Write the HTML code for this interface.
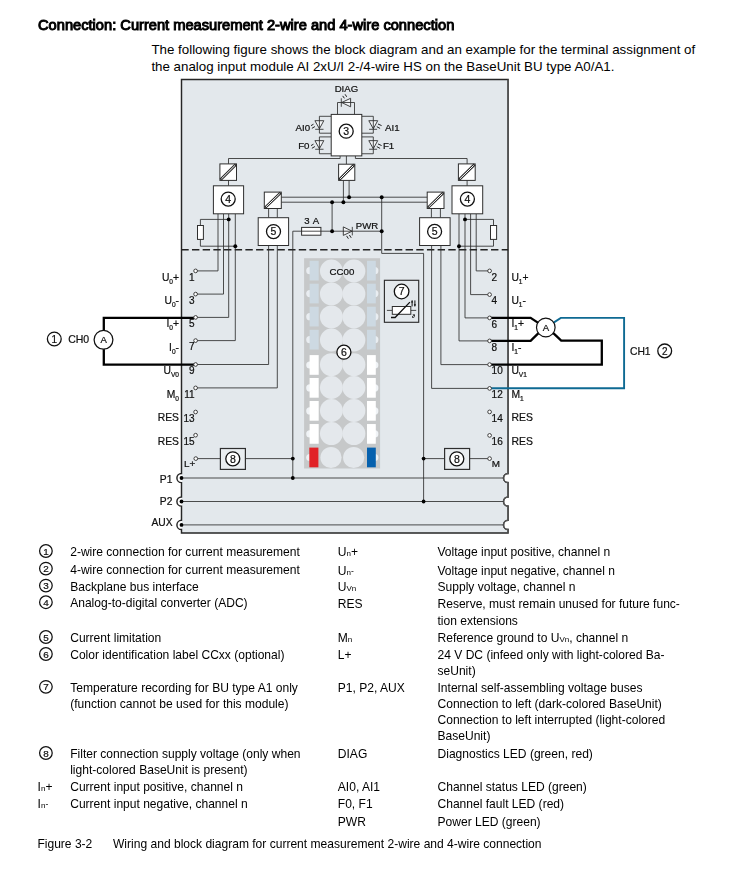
<!DOCTYPE html>
<html><head><meta charset="utf-8"><title>Connection: Current measurement 2-wire and 4-wire connection</title>
<style>
html,body{margin:0;padding:0;background:#fff;}
body{width:739px;height:874px;position:relative;overflow:hidden;font-family:"Liberation Sans",sans-serif;color:#111;}
svg{position:absolute;left:0;top:0;will-change:transform;}
svg text{font-family:"Liberation Sans",sans-serif;fill:#111;stroke:#111;stroke-width:0.22px;}
.h{position:absolute;will-change:transform;left:37.6px;top:17.4px;font-size:14.67px;line-height:17px;white-space:nowrap;color:#000;-webkit-text-stroke:1.0px #000;}
.p{position:absolute;left:151.4px;top:40.6px;font-size:13.33px;line-height:17.2px;white-space:nowrap;color:#000;}
.t{position:absolute;font-size:12.06px;line-height:14px;white-space:nowrap;color:#000;}
.s{font-size:8px;}
.m{font-size:8.5px;vertical-align:1px;}
.c{display:inline-block;box-sizing:border-box;width:13.4px;height:13.4px;border:1.1px solid #111;border-radius:50%;font-size:9.6px;line-height:11.4px;text-align:center;vertical-align:-2.2px;}
</style></head><body>
<div class="h">Connection: Current measurement 2-wire and 4-wire connection</div>
<div class="p">The following figure shows the block diagram and an example for the terminal assignment of<br>the analog input module AI 2xU/I 2-/4-wire HS on the BaseUnit BU type A0/A1.</div>
<svg width="739" height="874" viewBox="0 0 739 874">
<rect x="181.5" y="79.4" width="326.6" height="453.6" fill="#e3e8ec"/>
<path d="M181.5,473.4 A4.6,4.6 0 0 0 181.5,482.6 Z" fill="#fff"/>
<path d="M181.5,496.9 A4.6,4.6 0 0 0 181.5,506.1 Z" fill="#fff"/>
<path d="M181.5,520.3 A4.6,4.6 0 0 0 181.5,529.5 Z" fill="#fff"/>
<path d="M508.1,473.4 A4.6,4.6 0 0 0 508.1,482.6 Z" fill="#fff"/>
<path d="M508.1,496.9 A4.6,4.6 0 0 0 508.1,506.1 Z" fill="#fff"/>
<path d="M508.1,520.3 A4.6,4.6 0 0 0 508.1,529.5 Z" fill="#fff"/>
<path d="M181.5,79.4 L181.5,473.4 A4.6,4.6 0 0 0 181.5,482.6 L181.5,496.9 A4.6,4.6 0 0 0 181.5,506.1 L181.5,520.3 A4.6,4.6 0 0 0 181.5,529.5 L181.5,533.0 L508.1,533.0 L508.1,529.5 A4.6,4.6 0 0 1 508.1,520.3 L508.1,506.1 A4.6,4.6 0 0 1 508.1,496.9 L508.1,482.6 A4.6,4.6 0 0 1 508.1,473.4 L508.1,79.4 Z" fill="none" stroke="#262626" stroke-width="1.45" stroke-linejoin="miter"/>
<path d="M508.1,79.4 L508.1,473.4 A4.6,4.6 0 0 0 508.1,482.6 L508.1,496.9 A4.6,4.6 0 0 0 508.1,506.1 L508.1,520.3 A4.6,4.6 0 0 0 508.1,529.5 L508.1,533.0" fill="none" stroke="#555" stroke-width="1.5"/>
<path d="M181.3,249.7 L508.1,249.7" stroke="#222" stroke-width="1.4" stroke-dasharray="7.4,3.28" fill="none"/>
<path d="M181.5,478.0 L503.5,478.0" fill="none" stroke="#2e2e2e" stroke-width="0.85" />
<path d="M181.5,501.5 L503.5,501.5" fill="none" stroke="#2e2e2e" stroke-width="0.85" />
<path d="M181.5,524.9 L503.5,524.9" fill="none" stroke="#2e2e2e" stroke-width="0.85" />
<circle cx="181.5" cy="478.0" r="1.9" fill="#000"/>
<circle cx="181.5" cy="501.5" r="1.9" fill="#000"/>
<circle cx="181.5" cy="524.9" r="1.9" fill="#000"/>
<path d="M341.7,102.5 L350.6,98.3 L350.6,106.8 Z" fill="#f2f4f6" stroke="#2e2e2e" stroke-width="0.9"/>
<path d="M337.5,114.4 L337.5,102.5 L354.5,102.5 L354.5,114.4" fill="none" stroke="#2e2e2e" stroke-width="0.85" />
<path d="M341.3,98.3 L341.3,106.8" fill="none" stroke="#2e2e2e" stroke-width="0.85" />
<path d="M344.4,98.3 L342.7,95.9" fill="none" stroke="#222" stroke-width="1.0" />
<path d="M346.7,96.8 L345.1,94.3" fill="none" stroke="#222" stroke-width="1.0" />
<text x="346.4" y="91.6" font-size="9.6" text-anchor="middle" >DIAG</text>
<path d="M314.9,120.7 L323.8,120.7 L319.4,128.75 Z" fill="#f2f4f6" stroke="#2e2e2e" stroke-width="0.9"/>
<path d="M331.2,116.3 L319.4,116.3 L319.4,133.2 L331.2,133.2" fill="none" stroke="#2e2e2e" stroke-width="0.85" />
<path d="M315.2,129.3 L323.5,129.3" fill="none" stroke="#2e2e2e" stroke-width="0.85" />
<path d="M311.0,125.65 L313.5,124.2" fill="none" stroke="#222" stroke-width="1.0" />
<path d="M311.9,128.35 L314.9,126.55" fill="none" stroke="#222" stroke-width="1.0" />
<text x="295.6" y="130.5" font-size="9.7" text-anchor="start" >AI0</text>
<path d="M314.9,140.65 L323.8,140.65 L319.4,148.7 Z" fill="#f2f4f6" stroke="#2e2e2e" stroke-width="0.9"/>
<path d="M331.2,136.9 L319.4,136.9 L319.4,153.75 L331.2,153.75" fill="none" stroke="#2e2e2e" stroke-width="0.85" />
<path d="M315.2,149.25 L323.5,149.25" fill="none" stroke="#2e2e2e" stroke-width="0.85" />
<path d="M311.0,145.6 L313.5,144.14999999999998" fill="none" stroke="#222" stroke-width="1.0" />
<path d="M311.9,148.29999999999998 L314.9,146.5" fill="none" stroke="#222" stroke-width="1.0" />
<text x="298.2" y="148.7" font-size="9.7" text-anchor="start" >F0</text>
<path d="M368.8,120.7 L377.7,120.7 L373.3,128.75 Z" fill="#f2f4f6" stroke="#2e2e2e" stroke-width="0.9"/>
<path d="M361.6,116.3 L373.3,116.3 L373.3,133.2 L361.6,133.2" fill="none" stroke="#2e2e2e" stroke-width="0.85" />
<path d="M369.1,129.3 L377.1,129.3" fill="none" stroke="#2e2e2e" stroke-width="0.85" />
<path d="M378.0,124.0 L381.6,125.6" fill="none" stroke="#222" stroke-width="1.0" />
<path d="M376.8,126.7 L380.1,128.45" fill="none" stroke="#222" stroke-width="1.0" />
<text x="385.0" y="130.5" font-size="9.7" text-anchor="start" >AI1</text>
<path d="M368.8,140.65 L377.7,140.65 L373.3,148.7 Z" fill="#f2f4f6" stroke="#2e2e2e" stroke-width="0.9"/>
<path d="M361.6,136.9 L373.3,136.9 L373.3,153.75 L361.6,153.75" fill="none" stroke="#2e2e2e" stroke-width="0.85" />
<path d="M369.1,149.25 L377.1,149.25" fill="none" stroke="#2e2e2e" stroke-width="0.85" />
<path d="M378.0,143.95 L381.6,145.54999999999998" fill="none" stroke="#222" stroke-width="1.0" />
<path d="M376.8,146.64999999999998 L380.1,148.39999999999998" fill="none" stroke="#222" stroke-width="1.0" />
<text x="382.9" y="148.7" font-size="9.7" text-anchor="start" >F1</text>
<path d="M340.1,155.9 L340.1,158.5 L228.5,158.5 L228.5,163.9" fill="none" stroke="#2e2e2e" stroke-width="0.85" />
<path d="M355.4,155.9 L355.4,158.5 L467.1,158.5 L467.1,163.9" fill="none" stroke="#2e2e2e" stroke-width="0.85" />
<path d="M346.4,155.9 L346.4,164.2" fill="none" stroke="#2e2e2e" stroke-width="0.85" />
<rect x="331.2" y="114.4" width="30.6" height="41.5" fill="#fff" stroke="#2e2e2e" stroke-width="1"/>
<circle cx="346.2" cy="131.2" r="7.0" fill="#fff" stroke="#111" stroke-width="1.3"/>
<text x="346.2" y="134.98" font-size="10.5" text-anchor="middle" stroke="#111" stroke-width="0.2">3</text>
<rect x="219.9" y="163.9" width="16.6" height="16.5" fill="#fff" stroke="#2e2e2e" stroke-width="1"/>
<path d="M220.5,179.8 L235.9,164.5" fill="none" stroke="#2a2a2a" stroke-width="2.7" />
<path d="M221.4,178.9 L235.0,165.4" fill="none" stroke="#fff" stroke-width="1.0" />
<path d="M228.5,180.4 L228.5,185.8" fill="none" stroke="#2e2e2e" stroke-width="0.85" />
<path d="M218.0,213.8 L218.0,270.9 L195.6,270.9" fill="none" stroke="#2e2e2e" stroke-width="0.85" />
<path d="M223.5,213.8 L223.5,294.1 L195.6,294.1" fill="none" stroke="#2e2e2e" stroke-width="0.85" />
<path d="M228.7,213.8 L228.7,317.4 L195.6,317.4" fill="none" stroke="#2e2e2e" stroke-width="0.85" />
<path d="M235.3,213.8 L235.3,340.6 L195.6,340.6" fill="none" stroke="#2e2e2e" stroke-width="0.85" />
<rect x="213.4" y="185.8" width="30.2" height="28.0" fill="#fff" stroke="#2e2e2e" stroke-width="1"/>
<circle cx="228.2" cy="199.1" r="7.0" fill="#fff" stroke="#111" stroke-width="1.3"/>
<text x="228.2" y="202.88" font-size="10.5" text-anchor="middle" stroke="#111" stroke-width="0.2">4</text>
<path d="M200.4,225.5 L200.4,219.4 L228.7,219.4" fill="none" stroke="#2e2e2e" stroke-width="0.85" />
<path d="M200.4,239.4 L200.4,246.2 L235.3,246.2" fill="none" stroke="#2e2e2e" stroke-width="0.85" />
<rect x="197.5" y="225.5" width="5.9" height="13.9" fill="#fff" stroke="#2e2e2e" stroke-width="1"/>
<circle cx="228.7" cy="219.4" r="1.95" fill="#000"/>
<circle cx="235.3" cy="246.2" r="1.95" fill="#000"/>
<rect x="458.4" y="163.9" width="16.8" height="16.5" fill="#fff" stroke="#2e2e2e" stroke-width="1"/>
<path d="M459.0,179.8 L474.59999999999997,164.5" fill="none" stroke="#2a2a2a" stroke-width="2.7" />
<path d="M459.9,178.9 L473.7,165.4" fill="none" stroke="#fff" stroke-width="1.0" />
<path d="M467.1,180.4 L467.1,185.8" fill="none" stroke="#2e2e2e" stroke-width="0.85" />
<path d="M476.2,213.8 L476.2,270.9 L489.6,270.9" fill="none" stroke="#2e2e2e" stroke-width="0.85" />
<path d="M470.6,213.8 L470.6,294.6 L489.6,294.6" fill="none" stroke="#2e2e2e" stroke-width="0.85" />
<path d="M465.0,213.8 L465.0,317.9 L489.6,317.9" fill="none" stroke="#2e2e2e" stroke-width="0.85" />
<path d="M459.0,213.8 L459.0,340.9 L489.6,340.9" fill="none" stroke="#2e2e2e" stroke-width="0.85" />
<rect x="452.0" y="185.8" width="30.7" height="28.0" fill="#fff" stroke="#2e2e2e" stroke-width="1"/>
<circle cx="467.4" cy="199.1" r="7.0" fill="#fff" stroke="#111" stroke-width="1.3"/>
<text x="467.4" y="202.88" font-size="10.5" text-anchor="middle" stroke="#111" stroke-width="0.2">4</text>
<path d="M493.5,225.5 L493.5,219.4 L465.0,219.4" fill="none" stroke="#2e2e2e" stroke-width="0.85" />
<path d="M493.5,239.4 L493.5,246.2 L459.0,246.2" fill="none" stroke="#2e2e2e" stroke-width="0.85" />
<rect x="490.5" y="225.5" width="6.1" height="13.9" fill="#fff" stroke="#2e2e2e" stroke-width="1"/>
<circle cx="465.0" cy="219.4" r="1.95" fill="#000"/>
<circle cx="459.0" cy="246.2" r="1.95" fill="#000"/>
<path d="M343.4,180.4 L343.4,202.2" fill="none" stroke="#2e2e2e" stroke-width="0.85" />
<path d="M349.1,180.4 L349.1,197.2" fill="none" stroke="#2e2e2e" stroke-width="0.85" />
<rect x="338.6" y="164.2" width="16.2" height="16.2" fill="#fff" stroke="#2e2e2e" stroke-width="1"/>
<path d="M339.20000000000005,179.8 L354.2,164.79999999999998" fill="none" stroke="#2a2a2a" stroke-width="2.7" />
<path d="M340.1,178.9 L353.3,165.7" fill="none" stroke="#fff" stroke-width="1.0" />
<path d="M281.3,197.2 L427.2,197.2" fill="none" stroke="#2e2e2e" stroke-width="0.85" />
<path d="M281.3,202.2 L427.2,202.2" fill="none" stroke="#2e2e2e" stroke-width="0.85" />
<rect x="264.3" y="192.1" width="17.0" height="16.4" fill="#fff" stroke="#2e2e2e" stroke-width="1"/>
<path d="M264.90000000000003,207.9 L280.7,192.7" fill="none" stroke="#2a2a2a" stroke-width="2.7" />
<path d="M265.8,207.0 L279.8,193.6" fill="none" stroke="#fff" stroke-width="1.0" />
<path d="M268.6,208.5 L268.6,217.7" fill="none" stroke="#2e2e2e" stroke-width="0.85" />
<path d="M277.3,208.5 L277.3,217.7" fill="none" stroke="#2e2e2e" stroke-width="0.85" />
<path d="M268.6,245.5 L268.6,364.5 L195.6,364.5" fill="none" stroke="#2e2e2e" stroke-width="0.85" />
<path d="M277.3,245.5 L277.3,387.9 L195.6,387.9" fill="none" stroke="#2e2e2e" stroke-width="0.85" />
<rect x="258.2" y="217.7" width="30.4" height="27.8" fill="#fff" stroke="#2e2e2e" stroke-width="1"/>
<circle cx="273.5" cy="231.6" r="7.0" fill="#fff" stroke="#111" stroke-width="1.3"/>
<text x="273.5" y="235.38" font-size="10.5" text-anchor="middle" stroke="#111" stroke-width="0.2">5</text>
<rect x="427.2" y="192.1" width="16.8" height="16.4" fill="#fff" stroke="#2e2e2e" stroke-width="1"/>
<path d="M427.8,207.9 L443.4,192.7" fill="none" stroke="#2a2a2a" stroke-width="2.7" />
<path d="M428.7,207.0 L442.5,193.6" fill="none" stroke="#fff" stroke-width="1.0" />
<path d="M431.4,208.5 L431.4,217.7" fill="none" stroke="#2e2e2e" stroke-width="0.85" />
<path d="M440.4,208.5 L440.4,217.7" fill="none" stroke="#2e2e2e" stroke-width="0.85" />
<path d="M440.9,245.5 L440.9,364.6 L489.6,364.6" fill="none" stroke="#2e2e2e" stroke-width="0.85" />
<path d="M431.6,245.5 L431.6,388.4 L489.6,388.4" fill="none" stroke="#2e2e2e" stroke-width="0.85" />
<rect x="419.6" y="217.7" width="30.5" height="27.8" fill="#fff" stroke="#2e2e2e" stroke-width="1"/>
<circle cx="434.6" cy="231.4" r="7.0" fill="#fff" stroke="#111" stroke-width="1.3"/>
<text x="434.6" y="235.18" font-size="10.5" text-anchor="middle" stroke="#111" stroke-width="0.2">5</text>
<rect x="301.6" y="227.4" width="19.3" height="7.8" fill="#fff" stroke="#2e2e2e" stroke-width="1"/>
<path d="M343.3,226.9 L343.3,235.4 L352.1,231.2 Z" fill="#f2f4f6" stroke="#2e2e2e" stroke-width="0.9"/>
<path d="M292.8,478.0 L292.8,231.2 L381.7,231.2" fill="none" stroke="#2e2e2e" stroke-width="0.85" />
<path d="M332.1,202.2 L332.1,231.2" fill="none" stroke="#2e2e2e" stroke-width="0.85" />
<text x="311.8" y="224.4" font-size="9.6" text-anchor="middle" word-spacing="1">3 A</text>
<path d="M352.3,226.9 L352.3,235.4" fill="none" stroke="#2e2e2e" stroke-width="0.85" />
<path d="M346.6,235.9 L348.4,238.7" fill="none" stroke="#222" stroke-width="1.0" />
<path d="M349.4,235.0 L351.2,237.8" fill="none" stroke="#222" stroke-width="1.0" />
<text x="355.8" y="228.9" font-size="9.6" text-anchor="start" >PWR</text>
<path d="M381.7,197.2 L381.7,253.4 L423.6,253.4 L423.6,501.5" fill="none" stroke="#2e2e2e" stroke-width="0.85" />
<circle cx="343.4" cy="202.2" r="1.95" fill="#000"/>
<circle cx="349.1" cy="197.2" r="1.95" fill="#000"/>
<circle cx="332.1" cy="202.2" r="1.95" fill="#000"/>
<circle cx="332.1" cy="231.2" r="1.95" fill="#000"/>
<circle cx="381.7" cy="197.2" r="1.95" fill="#000"/>
<circle cx="381.7" cy="231.2" r="1.95" fill="#000"/>
<path d="M195.8,458.6 L292.8,458.6" fill="none" stroke="#2e2e2e" stroke-width="0.85" />
<rect x="220.4" y="448.5" width="25.0" height="20.9" fill="#e9edf0" stroke="#2e2e2e" stroke-width="1.2"/>
<circle cx="232.8" cy="458.8" r="7.0" fill="#fff" stroke="#111" stroke-width="1.3"/>
<text x="232.8" y="462.58" font-size="10.5" text-anchor="middle" stroke="#111" stroke-width="0.2">8</text>
<circle cx="292.8" cy="458.6" r="1.9" fill="#000"/>
<circle cx="292.8" cy="478.0" r="1.9" fill="#000"/>
<path d="M423.6,458.6 L489.6,458.6" fill="none" stroke="#2e2e2e" stroke-width="0.85" />
<rect x="444.6" y="448.5" width="25.0" height="20.9" fill="#e9edf0" stroke="#2e2e2e" stroke-width="1.2"/>
<circle cx="456.8" cy="458.8" r="7.0" fill="#fff" stroke="#111" stroke-width="1.3"/>
<text x="456.8" y="462.58" font-size="10.5" text-anchor="middle" stroke="#111" stroke-width="0.2">8</text>
<circle cx="423.6" cy="458.6" r="1.9" fill="#000"/>
<circle cx="423.6" cy="501.5" r="1.9" fill="#000"/>
<rect x="304.1" y="258.2" width="76.0" height="210.3" fill="#c6c8c9"/>
<circle cx="309.8" cy="270.7" r="3.6" fill="#e9edf1"/>
<circle cx="374.8" cy="270.7" r="3.6" fill="#e9edf1"/>
<circle cx="331.4" cy="271.0" r="11.45" fill="#e4e8ec"/>
<circle cx="353.9" cy="271.0" r="11.45" fill="#e4e8ec"/>
<rect x="309.6" y="260.8" width="9.1" height="19.7" fill="#cdd9e2"/>
<rect x="367.0" y="260.8" width="8.8" height="19.7" fill="#cdd9e2"/>
<circle cx="309.8" cy="293.59999999999997" r="3.6" fill="#e9edf1"/>
<circle cx="374.8" cy="293.59999999999997" r="3.6" fill="#e9edf1"/>
<circle cx="331.4" cy="293.9" r="11.45" fill="#e4e8ec"/>
<circle cx="353.9" cy="293.9" r="11.45" fill="#e4e8ec"/>
<rect x="309.6" y="283.7" width="9.1" height="19.7" fill="#cdd9e2"/>
<rect x="367.0" y="283.7" width="8.8" height="19.7" fill="#cdd9e2"/>
<circle cx="309.8" cy="316.65" r="3.6" fill="#e9edf1"/>
<circle cx="374.8" cy="316.65" r="3.6" fill="#e9edf1"/>
<circle cx="331.4" cy="316.95" r="11.45" fill="#e4e8ec"/>
<circle cx="353.9" cy="316.95" r="11.45" fill="#e4e8ec"/>
<rect x="309.6" y="306.75" width="9.1" height="19.7" fill="#cdd9e2"/>
<rect x="367.0" y="306.75" width="8.8" height="19.7" fill="#cdd9e2"/>
<circle cx="309.8" cy="339.7" r="3.6" fill="#e9edf1"/>
<circle cx="374.8" cy="339.7" r="3.6" fill="#e9edf1"/>
<circle cx="331.4" cy="340.0" r="11.45" fill="#e4e8ec"/>
<circle cx="353.9" cy="340.0" r="11.45" fill="#e4e8ec"/>
<rect x="309.6" y="329.8" width="9.1" height="19.7" fill="#cdd9e2"/>
<rect x="367.0" y="329.8" width="8.8" height="19.7" fill="#cdd9e2"/>
<circle cx="309.8" cy="365.0" r="3.6" fill="#f0f3f6"/>
<circle cx="374.8" cy="365.0" r="3.6" fill="#f0f3f6"/>
<circle cx="331.4" cy="364.6" r="11.45" fill="#e4e8ec"/>
<circle cx="353.9" cy="364.6" r="11.45" fill="#e4e8ec"/>
<rect x="309.6" y="355.1" width="9.1" height="19.7" fill="#ffffff"/>
<rect x="367.0" y="355.1" width="8.8" height="19.7" fill="#ffffff"/>
<circle cx="309.8" cy="387.9" r="3.6" fill="#f0f3f6"/>
<circle cx="374.8" cy="387.9" r="3.6" fill="#f0f3f6"/>
<circle cx="331.4" cy="387.5" r="11.45" fill="#e4e8ec"/>
<circle cx="353.9" cy="387.5" r="11.45" fill="#e4e8ec"/>
<rect x="309.6" y="378.0" width="9.1" height="19.7" fill="#ffffff"/>
<rect x="367.0" y="378.0" width="8.8" height="19.7" fill="#ffffff"/>
<circle cx="309.8" cy="410.9" r="3.6" fill="#f0f3f6"/>
<circle cx="374.8" cy="410.9" r="3.6" fill="#f0f3f6"/>
<circle cx="331.4" cy="410.5" r="11.45" fill="#e4e8ec"/>
<circle cx="353.9" cy="410.5" r="11.45" fill="#e4e8ec"/>
<rect x="309.6" y="401.0" width="9.1" height="19.7" fill="#ffffff"/>
<rect x="367.0" y="401.0" width="8.8" height="19.7" fill="#ffffff"/>
<circle cx="309.8" cy="433.95" r="3.6" fill="#f0f3f6"/>
<circle cx="374.8" cy="433.95" r="3.6" fill="#f0f3f6"/>
<circle cx="331.4" cy="433.55" r="11.45" fill="#e4e8ec"/>
<circle cx="353.9" cy="433.55" r="11.45" fill="#e4e8ec"/>
<rect x="309.6" y="424.05" width="9.1" height="19.7" fill="#ffffff"/>
<rect x="367.0" y="424.05" width="8.8" height="19.7" fill="#ffffff"/>
<circle cx="309.8" cy="457.5" r="3.6" fill="#eef1f4"/>
<circle cx="374.8" cy="457.5" r="3.6" fill="#eef1f4"/>
<circle cx="331.0" cy="457.5" r="10.6" fill="#e4e8ec"/>
<circle cx="353.7" cy="457.5" r="10.6" fill="#e4e8ec"/>
<rect x="309.3" y="447.6" width="9.1" height="19.7" fill="#e12227"/>
<rect x="367.0" y="447.6" width="8.8" height="19.7" fill="#0661ae"/>
<text x="342.0" y="274.9" font-size="9.7" text-anchor="middle" >CC00</text>
<circle cx="343.9" cy="352.2" r="7.0" fill="#fff" stroke="#111" stroke-width="1.3"/>
<text x="343.9" y="355.98" font-size="10.5" text-anchor="middle" stroke="#111" stroke-width="0.2">6</text>
<rect x="384.4" y="280.3" width="34.3" height="42.0" fill="none" stroke="#2e2e2e" stroke-width="1.15"/>
<circle cx="401.6" cy="291.5" r="7.3" fill="#fff" stroke="#111" stroke-width="1.3"/>
<text x="401.6" y="295.28" font-size="10.5" text-anchor="middle" stroke="#111" stroke-width="0.2">7</text>
<path d="M386.9,310.4 L392.3,310.4" fill="none" stroke="#2e2e2e" stroke-width="0.85" />
<path d="M410.8,310.4 L416.2,310.4" fill="none" stroke="#2e2e2e" stroke-width="0.85" />
<rect x="392.3" y="306.5" width="18.5" height="7.8" fill="#fff" stroke="#2e2e2e" stroke-width="1"/>
<path d="M391.0,317.5 L395.1,317.5 L409.9,302.1" fill="none" stroke="#111" stroke-width="1.3" />
<path d="M412.1,300.4 L412.1,306.4" fill="none" stroke="#111" stroke-width="1.0" />
<path d="M411.0,302.6 L412.1,300.2 L413.2,302.6 Z" fill="#111"/>
<path d="M414.9,300.4 L414.9,306.4" fill="none" stroke="#111" stroke-width="1.0" />
<path d="M413.8,304.2 L414.9,306.6 L416.0,304.2 Z" fill="#111"/>
<text x="412.0" y="317.6" font-size="5" text-anchor="start" font-style="italic">&#977;</text>
<text x="194.6" y="280.5" font-size="10" text-anchor="end" >1</text>
<text x="194.6" y="303.70000000000005" font-size="10" text-anchor="end" >3</text>
<text x="194.6" y="327.0" font-size="10" text-anchor="end" >5</text>
<text x="194.6" y="350.20000000000005" font-size="10" text-anchor="end" >7</text>
<text x="194.6" y="374.1" font-size="10" text-anchor="end" >9</text>
<text x="194.6" y="397.5" font-size="10" text-anchor="end" >11</text>
<text x="194.6" y="421.6" font-size="10" text-anchor="end" >13</text>
<text x="194.6" y="444.8" font-size="10" text-anchor="end" >15</text>
<text x="491.6" y="280.59999999999997" font-size="10" text-anchor="start" >2</text>
<text x="491.6" y="304.3" font-size="10" text-anchor="start" >4</text>
<text x="491.6" y="327.59999999999997" font-size="10" text-anchor="start" >6</text>
<text x="491.6" y="350.59999999999997" font-size="10" text-anchor="start" >8</text>
<text x="491.6" y="374.3" font-size="10" text-anchor="start" >10</text>
<text x="491.6" y="398.09999999999997" font-size="10" text-anchor="start" >12</text>
<text x="491.6" y="421.59999999999997" font-size="10" text-anchor="start" >14</text>
<text x="491.6" y="445.09999999999997" font-size="10" text-anchor="start" >16</text>
<text x="184.0" y="467.3" font-size="9.9" text-anchor="start" >L+</text>
<text x="491.8" y="467.3" font-size="9.9" text-anchor="start" >M</text>
<path d="M195.6,317.8 L103.8,317.8 L103.8,364.6 L195.6,364.6" fill="none" stroke="#000" stroke-width="2.3" />
<circle cx="103.5" cy="339.8" r="9.4" fill="#fff" stroke="#111" stroke-width="1.25"/>
<text x="103.6" y="343.2" font-size="9.6" text-anchor="middle" stroke="#111" stroke-width="0.2">A</text>
<text x="68.2" y="342.8" font-size="10.5" text-anchor="start" >CH0</text>
<circle cx="54.3" cy="339.0" r="6.9" fill="#fff" stroke="#111" stroke-width="1.3"/>
<text x="54.3" y="342.6" font-size="10" text-anchor="middle" stroke="#111" stroke-width="0.2">1</text>
<path d="M489.6,317.9 L530.6,317.9 L539.0,323.4" fill="none" stroke="#000" stroke-width="2.3" />
<path d="M489.6,340.9 L530.6,340.9 L539.0,332.6" fill="none" stroke="#000" stroke-width="2.3" />
<path d="M552.8,332.6 L561.2,340.7 L601.8,340.7 L601.8,364.6 L489.6,364.6" fill="none" stroke="#000" stroke-width="2.3" />
<path d="M553.6,322.6 L560.8,317.9 L624.1,317.9 L624.1,388.3 L489.6,388.3" fill="none" stroke="#0e6a93" stroke-width="1.9" />
<circle cx="545.8" cy="327.5" r="9.3" fill="#fff" stroke="#111" stroke-width="1.2"/>
<text x="545.9" y="331.0" font-size="9.6" text-anchor="middle" stroke="#111" stroke-width="0.2">A</text>
<text x="630.0" y="354.9" font-size="10.3" text-anchor="start" >CH1</text>
<circle cx="664.7" cy="350.9" r="6.9" fill="#fff" stroke="#111" stroke-width="1.3"/>
<text x="664.7" y="354.5" font-size="10" text-anchor="middle" stroke="#111" stroke-width="0.2">2</text>
<circle cx="195.6" cy="270.9" r="1.85" fill="#fff" stroke="#2e2e2e" stroke-width="0.9"/>
<circle cx="195.6" cy="294.1" r="1.85" fill="#fff" stroke="#2e2e2e" stroke-width="0.9"/>
<circle cx="195.6" cy="317.4" r="1.85" fill="#fff" stroke="#2e2e2e" stroke-width="0.9"/>
<circle cx="195.6" cy="340.6" r="1.85" fill="#fff" stroke="#2e2e2e" stroke-width="0.9"/>
<circle cx="195.6" cy="364.5" r="1.85" fill="#fff" stroke="#2e2e2e" stroke-width="0.9"/>
<circle cx="195.6" cy="387.9" r="1.85" fill="#fff" stroke="#2e2e2e" stroke-width="0.9"/>
<circle cx="195.6" cy="412.0" r="1.85" fill="#fff" stroke="#2e2e2e" stroke-width="0.9"/>
<circle cx="195.6" cy="435.2" r="1.85" fill="#fff" stroke="#2e2e2e" stroke-width="0.9"/>
<circle cx="195.8" cy="458.6" r="1.85" fill="#fff" stroke="#2e2e2e" stroke-width="0.9"/>
<circle cx="489.6" cy="270.9" r="1.85" fill="#fff" stroke="#2e2e2e" stroke-width="0.9"/>
<circle cx="489.6" cy="294.6" r="1.85" fill="#fff" stroke="#2e2e2e" stroke-width="0.9"/>
<circle cx="489.6" cy="317.9" r="1.85" fill="#fff" stroke="#2e2e2e" stroke-width="0.9"/>
<circle cx="489.6" cy="340.9" r="1.85" fill="#fff" stroke="#2e2e2e" stroke-width="0.9"/>
<circle cx="489.6" cy="364.6" r="1.85" fill="#fff" stroke="#2e2e2e" stroke-width="0.9"/>
<circle cx="489.6" cy="388.4" r="1.85" fill="#fff" stroke="#2e2e2e" stroke-width="0.9"/>
<circle cx="489.6" cy="411.9" r="1.85" fill="#fff" stroke="#2e2e2e" stroke-width="0.9"/>
<circle cx="489.6" cy="435.4" r="1.85" fill="#fff" stroke="#2e2e2e" stroke-width="0.9"/>
<circle cx="489.6" cy="458.6" r="1.85" fill="#fff" stroke="#2e2e2e" stroke-width="0.9"/>
<text x="179.0" y="280.6" font-size="10.3" text-anchor="end">U<tspan font-size="6.6" dy="3.0">0</tspan><tspan dy="-3.0">+</tspan></text>
<text x="179.0" y="304.0" font-size="10.3" text-anchor="end">U<tspan font-size="6.6" dy="3.0">0</tspan><tspan dy="-3.0">-</tspan></text>
<text x="179.0" y="327.2" font-size="10.3" text-anchor="end">I<tspan font-size="6.6" dy="3.0">0</tspan><tspan dy="-3.0">+</tspan></text>
<text x="179.0" y="350.6" font-size="10.3" text-anchor="end">I<tspan font-size="6.6" dy="3.0">0</tspan><tspan dy="-3.0">-</tspan></text>
<text x="179.0" y="374.3" font-size="10.3" text-anchor="end">U<tspan font-size="6.6" dy="3.0">V0</tspan><tspan dy="-3.0"></tspan></text>
<text x="179.0" y="397.6" font-size="10.3" text-anchor="end">M<tspan font-size="6.6" dy="3.0">0</tspan><tspan dy="-3.0"></tspan></text>
<text x="178.9" y="421.2" font-size="10.3" text-anchor="end" >RES</text>
<text x="178.9" y="444.9" font-size="10.3" text-anchor="end" >RES</text>
<text x="172.4" y="483.2" font-size="10.3" text-anchor="end" >P1</text>
<text x="172.4" y="505.2" font-size="10.3" text-anchor="end" >P2</text>
<text x="172.6" y="526.4" font-size="10.3" text-anchor="end" >AUX</text>
<text x="511.4" y="280.6" font-size="10.3" text-anchor="start">U<tspan font-size="6.6" dy="3.0">1</tspan><tspan dy="-3.0">+</tspan></text>
<text x="511.4" y="304.0" font-size="10.3" text-anchor="start">U<tspan font-size="6.6" dy="3.0">1</tspan><tspan dy="-3.0">-</tspan></text>
<text x="511.4" y="327.2" font-size="10.3" text-anchor="start">I<tspan font-size="6.6" dy="3.0">1</tspan><tspan dy="-3.0">+</tspan></text>
<text x="511.4" y="350.6" font-size="10.3" text-anchor="start">I<tspan font-size="6.6" dy="3.0">1</tspan><tspan dy="-3.0">-</tspan></text>
<text x="511.4" y="374.3" font-size="10.3" text-anchor="start">U<tspan font-size="6.6" dy="3.0">V1</tspan><tspan dy="-3.0"></tspan></text>
<text x="511.4" y="397.6" font-size="10.3" text-anchor="start">M<tspan font-size="6.6" dy="3.0">1</tspan><tspan dy="-3.0"></tspan></text>
<text x="511.6" y="421.2" font-size="10.4" text-anchor="start" >RES</text>
<text x="511.6" y="444.9" font-size="10.4" text-anchor="start" >RES</text>
<circle cx="45.9" cy="551.0" r="6.3" fill="#fff" stroke="#111" stroke-width="1.25"/>
<text x="45.9" y="554.5" font-size="9.9" text-anchor="middle" stroke="#111" stroke-width="0.15">1</text>
<circle cx="45.9" cy="568.6" r="6.3" fill="#fff" stroke="#111" stroke-width="1.25"/>
<text x="45.9" y="572.1" font-size="9.9" text-anchor="middle" stroke="#111" stroke-width="0.15">2</text>
<circle cx="45.9" cy="585.6" r="6.3" fill="#fff" stroke="#111" stroke-width="1.25"/>
<text x="45.9" y="589.1" font-size="9.9" text-anchor="middle" stroke="#111" stroke-width="0.15">3</text>
<circle cx="45.9" cy="602.2" r="6.3" fill="#fff" stroke="#111" stroke-width="1.25"/>
<text x="45.9" y="605.7" font-size="9.9" text-anchor="middle" stroke="#111" stroke-width="0.15">4</text>
<circle cx="45.9" cy="637.0" r="6.3" fill="#fff" stroke="#111" stroke-width="1.25"/>
<text x="45.9" y="640.5" font-size="9.9" text-anchor="middle" stroke="#111" stroke-width="0.15">5</text>
<circle cx="45.9" cy="654.0" r="6.3" fill="#fff" stroke="#111" stroke-width="1.25"/>
<text x="45.9" y="657.5" font-size="9.9" text-anchor="middle" stroke="#111" stroke-width="0.15">6</text>
<circle cx="45.9" cy="686.8" r="6.3" fill="#fff" stroke="#111" stroke-width="1.25"/>
<text x="45.9" y="690.3" font-size="9.9" text-anchor="middle" stroke="#111" stroke-width="0.15">7</text>
<circle cx="45.9" cy="753.0" r="6.3" fill="#fff" stroke="#111" stroke-width="1.25"/>
<text x="45.9" y="756.5" font-size="9.9" text-anchor="middle" stroke="#111" stroke-width="0.15">8</text>
</svg>
<div class="t" style="left:70.2px;top:544.84px">2-wire connection for current measurement</div>
<div class="t" style="left:70.2px;top:562.64px">4-wire connection for current measurement</div>
<div class="t" style="left:70.2px;top:579.64px">Backplane bus interface</div>
<div class="t" style="left:70.2px;top:596.14px">Analog-to-digital converter (ADC)</div>
<div class="t" style="left:70.2px;top:631.14px">Current limitation</div>
<div class="t" style="left:70.2px;top:648.24px">Color identification label CCxx (optional)</div>
<div class="t" style="left:70.2px;top:680.54px">Temperature recording for BU type A1 only</div>
<div class="t" style="left:70.2px;top:697.24px">(function cannot be used for this module)</div>
<div class="t" style="left:70.2px;top:746.84px">Filter connection supply voltage (only when</div>
<div class="t" style="left:70.2px;top:762.94px">light-colored BaseUnit is present)</div>
<div class="t" style="left:37.6px;top:779.64px">I<span class="s">n</span>+</div>
<div class="t" style="left:70.2px;top:779.64px">Current input positive, channel n</div>
<div class="t" style="left:37.6px;top:796.84px">I<span class="s">n</span><span class="m">-</span></div>
<div class="t" style="left:70.2px;top:796.84px">Current input negative, channel n</div>
<div class="t" style="left:337.8px;top:544.84px">U<span class="s">n</span>+</div>
<div class="t" style="left:437.5px;top:544.84px">Voltage input positive, channel n</div>
<div class="t" style="left:337.8px;top:563.54px">U<span class="s">n</span><span class="m">-</span></div>
<div class="t" style="left:437.5px;top:563.54px">Voltage input negative, channel n</div>
<div class="t" style="left:337.8px;top:580.34px">U<span class="s">Vn</span></div>
<div class="t" style="left:437.5px;top:580.34px">Supply voltage, channel n</div>
<div class="t" style="left:337.8px;top:597.04px">RES</div>
<div class="t" style="left:437.5px;top:597.04px">Reserve, must remain unused for future func-</div>
<div class="t" style="left:437.5px;top:613.54px">tion extensions</div>
<div class="t" style="left:337.8px;top:630.84px">M<span class="s">n</span></div>
<div class="t" style="left:437.5px;top:630.84px">Reference ground to U<span class="s">Vn</span>, channel n</div>
<div class="t" style="left:337.8px;top:648.14px">L+</div>
<div class="t" style="left:437.5px;top:648.14px">24 V DC (infeed only with light-colored Ba-</div>
<div class="t" style="left:437.5px;top:663.84px">seUnit)</div>
<div class="t" style="left:337.8px;top:680.84px">P1, P2, AUX</div>
<div class="t" style="left:437.5px;top:680.84px">Internal self-assembling voltage buses</div>
<div class="t" style="left:437.5px;top:697.34px">Connection to left (dark-colored BaseUnit)</div>
<div class="t" style="left:437.5px;top:713.44px">Connection to left interrupted (light-colored</div>
<div class="t" style="left:437.5px;top:728.94px">BaseUnit)</div>
<div class="t" style="left:337.8px;top:747.14px">DIAG</div>
<div class="t" style="left:437.5px;top:747.14px">Diagnostics LED (green, red)</div>
<div class="t" style="left:337.8px;top:780.14px">AI0, AI1</div>
<div class="t" style="left:437.5px;top:780.14px">Channel status LED (green)</div>
<div class="t" style="left:337.8px;top:797.34px">F0, F1</div>
<div class="t" style="left:437.5px;top:797.34px">Channel fault LED (red)</div>
<div class="t" style="left:337.8px;top:815.34px">PWR</div>
<div class="t" style="left:437.5px;top:815.34px">Power LED (green)</div>
<div class="t" style="left:37.4px;top:836.94px">Figure 3-2</div>
<div class="t" style="left:113.0px;top:836.94px">Wiring and block diagram for current measurement 2-wire and 4-wire connection</div>
</body></html>
